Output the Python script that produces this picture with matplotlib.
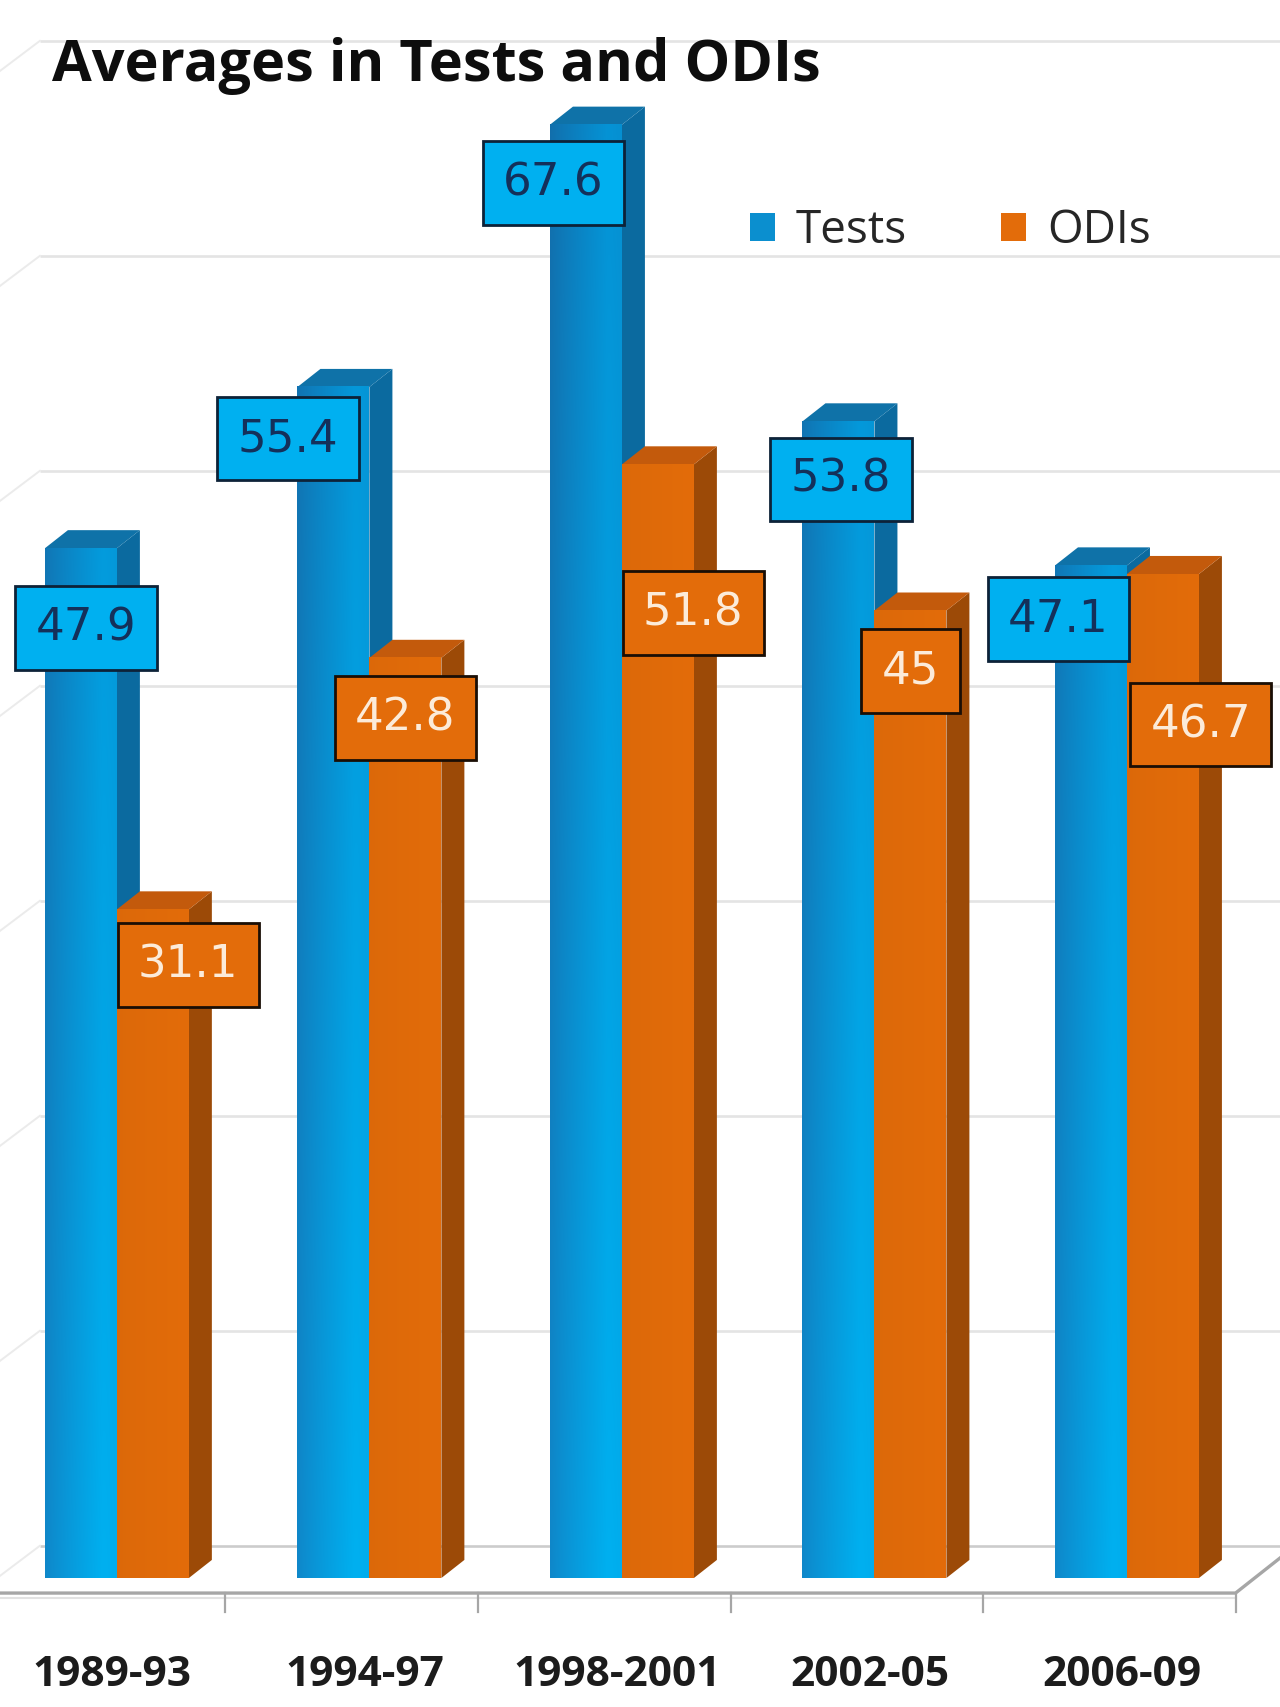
import numpy as np
import matplotlib.pyplot as plt
from matplotlib.patches import Polygon, Patch
from matplotlib.colors import to_rgb

# data
periods = ['1989-93', '1994-97', '1998-2001', '2002-05', '2006-09']
series_names = ['Tests', 'ODIs']
tests = [47.9, 55.4, 67.6, 53.8, 47.1]
odis = [31.1, 42.8, 51.8, 45.0, 46.7]
grid_levels = [0, 10, 20, 30, 40, 50, 60, 70]

# hand-placed label offsets (x in group units, y in value units, from bar top centre)
tests_lab_dx = [0.02, -0.18, -0.13, 0.01, -0.13]
tests_lab_dy = [-3.7, -2.4, -2.7, -2.7, -2.5]
odis_lab_dx = [0.14, 0.0, 0.14, 0.0, 0.15]
odis_lab_dy = [-2.6, -2.8, -6.9, -2.8, -7.0]

W = 0.285      # bar width (group spacing = 1)
DX = 0.091     # 3d depth, x
DY = 0.84      # 3d depth, y
WALL = 1.5     # back wall offset
YMAX = 70.0

fig = plt.figure(figsize=(12.8, 17.07), dpi=100)
ax = fig.add_axes([0, 0, 1, 1])
ax.axis('off')
XL, XR = -0.463, 4.606


def tests_face(h):
    nx, ny = 64, 200
    u = np.linspace(0, 1, nx)
    t = np.clip(u / 0.8, 0, 1) ** 0.9
    t = t - 0.08 * np.clip((u - 0.85) / 0.15, 0, 1)
    yy = np.linspace(0, h, ny) / YMAX
    lb = np.array([0.06, 0.53, 0.79])
    rb = np.array([0.00, 0.69, 0.94])
    lt = np.array([0.07, 0.43, 0.67])
    rt = np.array([0.02, 0.57, 0.83])
    left = lb[None, :] * (1 - yy[:, None]) + lt[None, :] * yy[:, None]
    right = rb[None, :] * (1 - yy[:, None]) + rt[None, :] * yy[:, None]
    img = left[:, None, :] * (1 - t[None, :, None]) + right[:, None, :] * t[None, :, None]
    return np.clip(img, 0, 1)


def odis_face(h):
    nx, ny = 64, 50
    u = np.linspace(0, 1, nx)
    base = np.array(to_rgb('#E36C0A'))
    shade = 1.0 - 0.03 * (1 - u)
    img = np.ones((ny, nx, 3)) * base[None, None, :] * shade[None, :, None]
    return np.clip(img, 0, 1)


def draw_bar(x0, h, face_img, side_col, top_col, z):
    x1 = x0 + W
    side = Polygon([(x1, 0), (x1 + DX, DY), (x1 + DX, h + DY), (x1, h)],
                   closed=True, fc=side_col, ec='none', zorder=z)
    top = Polygon([(x0, h), (x0 + DX, h + DY), (x1 + DX, h + DY), (x1, h)],
                  closed=True, fc=top_col, ec='none', zorder=z)
    ax.add_patch(side)
    ax.add_patch(top)
    ax.imshow(face_img, extent=(x0, x1, 0, h), origin='lower',
              aspect='auto', interpolation='bilinear', zorder=z + 0.1)


# back wall gridlines + left wall diagonals
for v in grid_levels:
    col = '#CCCCCC' if v == 0 else '#E4E4E4'
    y = v + WALL
    ax.plot([-0.305, XR], [y, y], color=col, lw=1.9, zorder=1,
            solid_capstyle='butt')
    ax.plot([XL, -0.305], [y - 1.4, y], color='#EBEBEB', lw=1.4, zorder=1)

# front floor edge with tick marks
x_idx = np.arange(len(periods))
ax.plot([XL, 4.43, XR], [-0.7, -0.7, 0.93], color='#A6A6A6', lw=2.4, zorder=2)
ax.plot([XL, 4.43], [-0.95, -0.95], color='#E2E2E2', lw=1.5, zorder=1.9)
for i in x_idx:
    ax.plot([i + 0.43, i + 0.43], [-0.7, -1.6], color='#A6A6A6', lw=1.6, zorder=2)

# bars
for i in x_idx:
    draw_bar(i - W, tests[i], tests_face(tests[i]), '#0B6A9F', '#0F72A8', 3 + i * 2)
    draw_bar(i, odis[i], odis_face(odis[i]), '#9C4A07', '#C35A0C', 4 + i * 2)

# data labels
for i in x_idx:
    ax.text(i - W / 2 + tests_lab_dx[i], tests[i] + tests_lab_dy[i],
            '{:g}'.format(tests[i]), ha='center', va='center',
            fontsize=32.5, family='DejaVu Sans', color='#14305A', zorder=20,
            bbox=dict(boxstyle='square,pad=0.45', fc='#00B0F0',
                      ec='#0D2238', lw=2.0))
    ax.text(i + W / 2 + odis_lab_dx[i], odis[i] + odis_lab_dy[i],
            '{:g}'.format(odis[i]), ha='center', va='center',
            fontsize=32.5, family='DejaVu Sans', color='#FCEBD9', zorder=20,
            bbox=dict(boxstyle='square,pad=0.45', fc='#E36C0A',
                      ec='#1A0E05', lw=2.0))

# category labels
for i in x_idx:
    ax.text(i - 0.02, -5.02, periods[i], ha='center', va='baseline',
            fontsize=30.5, family='Open Sans', fontweight='bold', color='#1C1C1C')

ax.set_xlim(XL, XR)
ax.set_ylim(-6.0, 73.4)

# title
fig.text(52 / 1280, 1 - 81 / 1707, 'Averages in Tests and ODIs', ha='left',
         va='baseline', fontsize=41.5, family='Open Sans', fontweight='bold',
         color='#0D0D0D')

# legend
handles = [Patch(fc='#0B8FCF', ec='none'), Patch(fc='#E36C0A', ec='none')]
ax.legend(handles, series_names, loc='center left',
          bbox_to_anchor=(750 / 1280, 1 - 231 / 1707), ncol=2, frameon=False,
          prop={'family': 'Open Sans', 'size': 33}, labelcolor='#262626',
          handlelength=0.55, handleheight=0.55, handletextpad=0.45,
          columnspacing=2.05, borderpad=0, borderaxespad=0)

fig.savefig('out.png', dpi=100, facecolor='white')
